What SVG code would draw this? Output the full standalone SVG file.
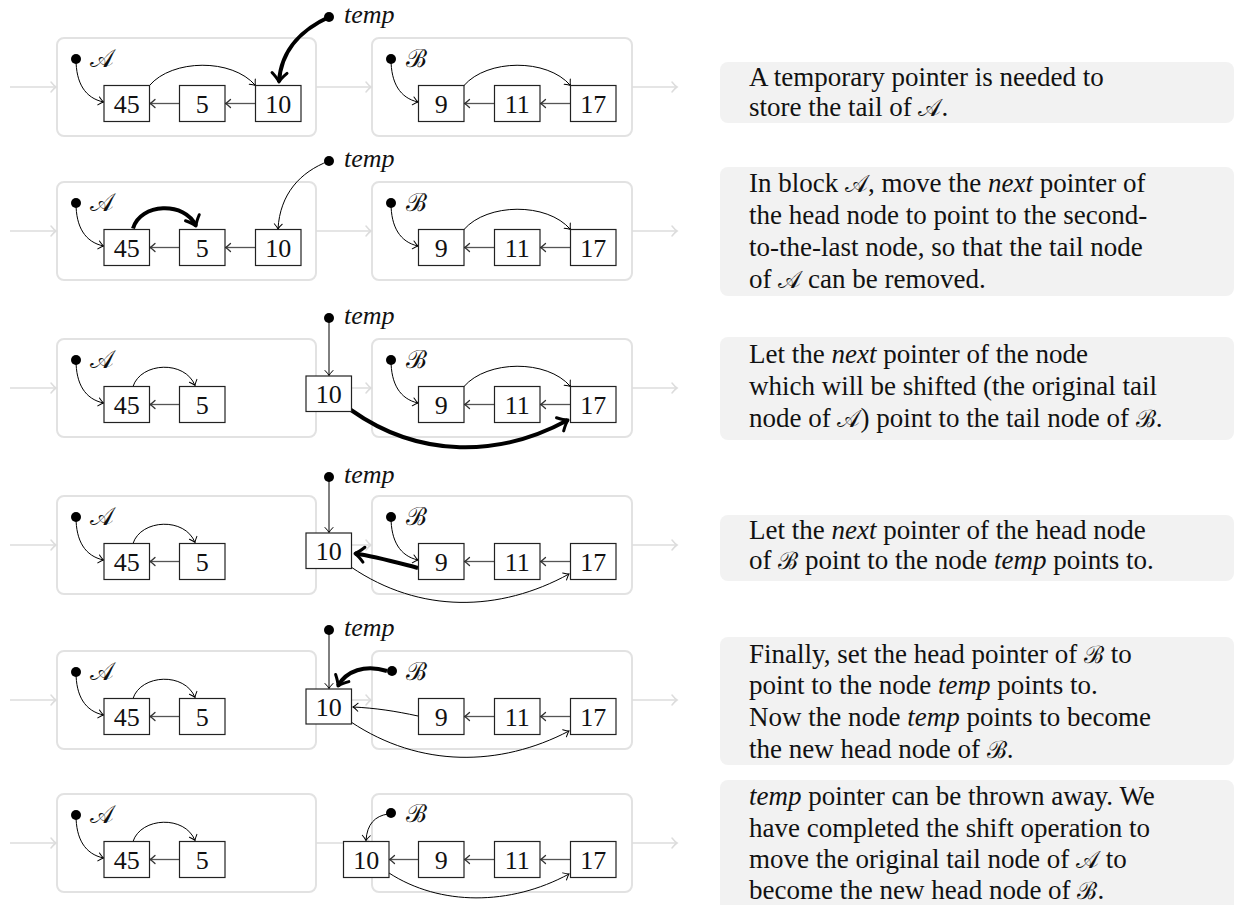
<svg xmlns="http://www.w3.org/2000/svg" width="1236" height="905" viewBox="0 0 1236 905">
  <style>
    .blk { fill: none; stroke: #e2e2e2; stroke-width: 2; }
    .nd rect { fill: #fff; stroke: #222; stroke-width: 1.2; }
    .num { font-size: 26px; text-anchor: middle; fill: #111; }
    .dot { fill: #000; }
    .lab { font-size: 25px; fill: #111; }
    .it { font-style: italic; font-size: 26px; fill: #111; }
    .ptr { fill: none; stroke: #000; stroke-width: 1; marker-end: url(#to); }
    .thk { fill: none; stroke: #000; stroke-width: 4; marker-end: url(#toThick); }
    .lnk { fill: none; stroke: #555; stroke-width: 1.3; marker-end: url(#toDark); }
    .gry { fill: none; stroke: #dcdcdc; stroke-width: 1.5; marker-end: url(#toGray); }
    .box { fill: #f2f2f2; }
    .txt { font-size: 27px; fill: #111; }
    .i { font-style: italic; }
    .cal { font-size: 24px; }
  </style>
  <defs>
    <marker id="to" markerUnits="userSpaceOnUse" orient="auto" refX="0" refY="0" markerWidth="12" markerHeight="12" overflow="visible">
      <path d="M-5,-4 Q-1.8,-0.9 0,0 Q-1.8,0.9 -5,4" fill="none" stroke="#000" stroke-width="1" stroke-linecap="round"/>
    </marker>
    <marker id="toDark" markerUnits="userSpaceOnUse" orient="auto" refX="0" refY="0" markerWidth="12" markerHeight="12" overflow="visible">
      <path d="M-5,-4 Q-1.8,-0.9 0,0 Q-1.8,0.9 -5,4" fill="none" stroke="#333" stroke-width="1.3" stroke-linecap="round"/>
    </marker>
    <marker id="toGray" markerUnits="userSpaceOnUse" orient="auto" refX="0" refY="0" markerWidth="12" markerHeight="12" overflow="visible">
      <path d="M-5,-5 Q-1.8,-1 0,0 Q-1.8,1 -5,5" fill="none" stroke="#dcdcdc" stroke-width="1.5" stroke-linecap="round"/>
    </marker>
    <marker id="toThick" markerUnits="userSpaceOnUse" orient="auto" refX="0" refY="0" markerWidth="20" markerHeight="20" overflow="visible">
      <path d="M-9,-7.5 Q-3.8,-2 0,0 Q-3.8,2 -9,7.5" fill="none" stroke="#000" stroke-width="3" stroke-linecap="round" stroke-linejoin="round"/>
    </marker>
  </defs>

  <!-- ===== Step 1 ===== -->
  <g id="row1" font-family="Liberation Serif">
    <rect class="blk" x="57" y="38" width="259" height="98" rx="7"/>
    <rect class="blk" x="372" y="38" width="260" height="98" rx="7"/>
    <g id="row1-connectors">
      <path class="gry" d="M10,87 H56"/>
      <path class="gry" d="M316,87 H371"/>
      <path class="gry" d="M632,87 H677"/>
      <path class="ptr" d="M76,59 C76,83 85,98 103.5,102"/>
      <path class="ptr" d="M149.5,85.5 C172,59 232,58 255.5,85.5"/>
      <path class="lnk" d="M179.5,103.5 H150"/>
      <path class="lnk" d="M255.5,103.5 H225.5"/>
      <path class="thk" d="M329,17 C305,28 281,48 279,82"/>
      <path class="ptr" d="M391,59 C391,83 400,98 418,102"/>
      <path class="ptr" d="M464,85.5 C487,59 547,58 570.5,85.5"/>
      <path class="lnk" d="M494.5,103.5 H464.5"/>
      <path class="lnk" d="M570.5,103.5 H540.5"/>
    </g>
    <g id="row1-headA"><circle class="dot" cx="76" cy="59" r="5"/><text class="lab" x="90" y="67">𝒜</text></g>
    <g id="row1-headB"><circle class="dot" cx="391" cy="59" r="5"/><text class="lab" x="406" y="67">ℬ</text></g>
    <g id="row1-temp"><circle class="dot" cx="329" cy="17" r="5"/><text class="it" x="344" y="23">temp</text></g>
    <g id="row1-n45" class="nd"><rect x="104" y="85.5" width="45.5" height="36"/><text class="num" x="126.75" y="112.5">45</text></g>
    <g id="row1-n5" class="nd"><rect x="179.5" y="85.5" width="45.5" height="36"/><text class="num" x="202.25" y="112.5">5</text></g>
    <g id="row1-n10" class="nd"><rect x="255.5" y="85.5" width="45.5" height="36"/><text class="num" x="278.25" y="112.5">10</text></g>
    <g id="row1-n9" class="nd"><rect x="418.5" y="85.5" width="45.5" height="36"/><text class="num" x="441.25" y="112.5">9</text></g>
    <g id="row1-n11" class="nd"><rect x="494.5" y="85.5" width="45.5" height="36"/><text class="num" x="517.25" y="112.5">11</text></g>
    <g id="row1-n17" class="nd"><rect x="570.5" y="85.5" width="45.5" height="36"/><text class="num" x="593.25" y="112.5">17</text></g>
  </g>

  <!-- ===== Step 2 ===== -->
  <g id="row2" font-family="Liberation Serif">
    <rect class="blk" x="57" y="182" width="259" height="98" rx="7"/>
    <rect class="blk" x="372" y="182" width="260" height="98" rx="7"/>
    <g id="row2-connectors">
      <path class="gry" d="M10,231 H56"/>
      <path class="gry" d="M316,231 H371"/>
      <path class="gry" d="M632,231 H677"/>
      <path class="ptr" d="M76,203 C76,227 85,242 103.5,246"/>
      <path class="thk" d="M133,228.5 C140,203 185,201 196,226"/>
      <path class="lnk" d="M179.5,247.5 H150"/>
      <path class="lnk" d="M255.5,247.5 H225.5"/>
      <path class="ptr" d="M329,161 C300,172 280,194 278,229"/>
      <path class="ptr" d="M391,203 C391,227 400,242 418,246"/>
      <path class="ptr" d="M464,229.5 C487,203 547,202 570.5,229.5"/>
      <path class="lnk" d="M494.5,247.5 H464.5"/>
      <path class="lnk" d="M570.5,247.5 H540.5"/>
    </g>
    <g id="row2-headA"><circle class="dot" cx="76" cy="203" r="5"/><text class="lab" x="90" y="211">𝒜</text></g>
    <g id="row2-headB"><circle class="dot" cx="391" cy="203" r="5"/><text class="lab" x="406" y="211">ℬ</text></g>
    <g id="row2-temp"><circle class="dot" cx="329" cy="161" r="5"/><text class="it" x="344" y="167">temp</text></g>
    <g id="row2-n45" class="nd"><rect x="104" y="229.5" width="45.5" height="36"/><text class="num" x="126.75" y="256.5">45</text></g>
    <g id="row2-n5" class="nd"><rect x="179.5" y="229.5" width="45.5" height="36"/><text class="num" x="202.25" y="256.5">5</text></g>
    <g id="row2-n10" class="nd"><rect x="255.5" y="229.5" width="45.5" height="36"/><text class="num" x="278.25" y="256.5">10</text></g>
    <g id="row2-n9" class="nd"><rect x="418.5" y="229.5" width="45.5" height="36"/><text class="num" x="441.25" y="256.5">9</text></g>
    <g id="row2-n11" class="nd"><rect x="494.5" y="229.5" width="45.5" height="36"/><text class="num" x="517.25" y="256.5">11</text></g>
    <g id="row2-n17" class="nd"><rect x="570.5" y="229.5" width="45.5" height="36"/><text class="num" x="593.25" y="256.5">17</text></g>
  </g>

  <!-- ===== Step 3 ===== -->
  <g id="row3" font-family="Liberation Serif">
    <rect class="blk" x="57" y="339" width="259" height="98" rx="7"/>
    <rect class="blk" x="372" y="339" width="260" height="98" rx="7"/>
    <g id="row3-connectors">
      <path class="gry" d="M10,388 H56"/>
      <path class="gry" d="M316,388 H371"/>
      <path class="gry" d="M632,388 H677"/>
      <path class="ptr" d="M76,360 C76,384 85,399 103.5,403"/>
      <path class="ptr" d="M133,386.5 C141,362 185,360 195,385.5"/>
      <path class="lnk" d="M179.5,404.5 H150"/>
      <path class="ptr" d="M329,318 V375.5"/>
      <path class="thk" d="M351,410 C420,459 500,457 568,420"/>
      <path class="ptr" d="M391,360 C391,384 400,399 418,403"/>
      <path class="ptr" d="M464,386.5 C487,360 547,359 570.5,386.5"/>
      <path class="lnk" d="M494.5,404.5 H464.5"/>
      <path class="lnk" d="M570.5,404.5 H540.5"/>
    </g>
    <g id="row3-headA"><circle class="dot" cx="76" cy="360" r="5"/><text class="lab" x="90" y="368">𝒜</text></g>
    <g id="row3-headB"><circle class="dot" cx="391" cy="360" r="5"/><text class="lab" x="406" y="368">ℬ</text></g>
    <g id="row3-temp"><circle class="dot" cx="329" cy="318" r="5"/><text class="it" x="344" y="324">temp</text></g>
    <g id="row3-n45" class="nd"><rect x="104" y="386.5" width="45.5" height="36"/><text class="num" x="126.75" y="413.5">45</text></g>
    <g id="row3-n5" class="nd"><rect x="179.5" y="386.5" width="45.5" height="36"/><text class="num" x="202.25" y="413.5">5</text></g>
    <g id="row3-n10" class="nd"><rect x="306" y="376" width="45.5" height="35.5"/><text class="num" x="328.75" y="403">10</text></g>
    <g id="row3-n9" class="nd"><rect x="418.5" y="386.5" width="45.5" height="36"/><text class="num" x="441.25" y="413.5">9</text></g>
    <g id="row3-n11" class="nd"><rect x="494.5" y="386.5" width="45.5" height="36"/><text class="num" x="517.25" y="413.5">11</text></g>
    <g id="row3-n17" class="nd"><rect x="570.5" y="386.5" width="45.5" height="36"/><text class="num" x="593.25" y="413.5">17</text></g>
  </g>

  <!-- ===== Step 4 ===== -->
  <g id="row4" font-family="Liberation Serif">
    <rect class="blk" x="57" y="496" width="259" height="98" rx="7"/>
    <rect class="blk" x="372" y="496" width="260" height="98" rx="7"/>
    <g id="row4-connectors">
      <path class="gry" d="M10,545 H56"/>
      <path class="gry" d="M316,545 H371"/>
      <path class="gry" d="M632,545 H677"/>
      <path class="ptr" d="M76,517 C76,541 85,556 103.5,560"/>
      <path class="ptr" d="M133,543.5 C141,519 185,517 195,542.5"/>
      <path class="lnk" d="M179.5,561.5 H150"/>
      <path class="ptr" d="M329,477 V532.5"/>
      <path class="thk" d="M418,568 C395,562 374,556 355,553.5"/>
      <path class="ptr" d="M351,567 C420,614 500,612 569,574"/>
      <path class="ptr" d="M391,517 C391,541 400,556 418,560"/>
      <path class="lnk" d="M494.5,561.5 H464.5"/>
      <path class="lnk" d="M570.5,561.5 H540.5"/>
    </g>
    <g id="row4-headA"><circle class="dot" cx="76" cy="517" r="5"/><text class="lab" x="90" y="525">𝒜</text></g>
    <g id="row4-headB"><circle class="dot" cx="391" cy="517" r="5"/><text class="lab" x="406" y="525">ℬ</text></g>
    <g id="row4-temp"><circle class="dot" cx="329" cy="477" r="5"/><text class="it" x="344" y="483">temp</text></g>
    <g id="row4-n45" class="nd"><rect x="104" y="543.5" width="45.5" height="36"/><text class="num" x="126.75" y="570.5">45</text></g>
    <g id="row4-n5" class="nd"><rect x="179.5" y="543.5" width="45.5" height="36"/><text class="num" x="202.25" y="570.5">5</text></g>
    <g id="row4-n10" class="nd"><rect x="306" y="533" width="45.5" height="35.5"/><text class="num" x="328.75" y="560">10</text></g>
    <g id="row4-n9" class="nd"><rect x="418.5" y="543.5" width="45.5" height="36"/><text class="num" x="441.25" y="570.5">9</text></g>
    <g id="row4-n11" class="nd"><rect x="494.5" y="543.5" width="45.5" height="36"/><text class="num" x="517.25" y="570.5">11</text></g>
    <g id="row4-n17" class="nd"><rect x="570.5" y="543.5" width="45.5" height="36"/><text class="num" x="593.25" y="570.5">17</text></g>
  </g>

  <!-- ===== Step 5 ===== -->
  <g id="row5" font-family="Liberation Serif">
    <rect class="blk" x="57" y="651" width="259" height="98" rx="7"/>
    <rect class="blk" x="372" y="651" width="260" height="98" rx="7"/>
    <g id="row5-connectors">
      <path class="gry" d="M10,700 H56"/>
      <path class="gry" d="M316,700 H371"/>
      <path class="gry" d="M632,700 H677"/>
      <path class="ptr" d="M76,672 C76,696 85,711 103.5,715"/>
      <path class="ptr" d="M133,698.5 C141,674 185,672 195,697.5"/>
      <path class="lnk" d="M179.5,716.5 H150"/>
      <path class="ptr" d="M329,630 V688.5"/>
      <path class="thk" d="M387,671 C365,664 346,671 338,686"/>
      <path class="ptr" d="M418,716 C395,711 375,708 353,707"/>
      <path class="ptr" d="M351,722 C420,768 500,767 569,731"/>
      <path class="lnk" d="M494.5,716.5 H464.5"/>
      <path class="lnk" d="M570.5,716.5 H540.5"/>
    </g>
    <g id="row5-headA"><circle class="dot" cx="76" cy="672" r="5"/><text class="lab" x="90" y="680">𝒜</text></g>
    <g id="row5-headB"><circle class="dot" cx="392" cy="671" r="5"/><text class="lab" x="406" y="680">ℬ</text></g>
    <g id="row5-temp"><circle class="dot" cx="329" cy="630" r="5"/><text class="it" x="344" y="636">temp</text></g>
    <g id="row5-n45" class="nd"><rect x="104" y="698.5" width="45.5" height="36"/><text class="num" x="126.75" y="725.5">45</text></g>
    <g id="row5-n5" class="nd"><rect x="179.5" y="698.5" width="45.5" height="36"/><text class="num" x="202.25" y="725.5">5</text></g>
    <g id="row5-n10" class="nd"><rect x="306" y="689" width="45.5" height="35"/><text class="num" x="328.75" y="715.5">10</text></g>
    <g id="row5-n9" class="nd"><rect x="418.5" y="698.5" width="45.5" height="36"/><text class="num" x="441.25" y="725.5">9</text></g>
    <g id="row5-n11" class="nd"><rect x="494.5" y="698.5" width="45.5" height="36"/><text class="num" x="517.25" y="725.5">11</text></g>
    <g id="row5-n17" class="nd"><rect x="570.5" y="698.5" width="45.5" height="36"/><text class="num" x="593.25" y="725.5">17</text></g>
  </g>

  <!-- ===== Step 6 ===== -->
  <g id="row6" font-family="Liberation Serif">
    <rect class="blk" x="57" y="794" width="259" height="98" rx="7"/>
    <rect class="blk" x="372" y="794" width="260" height="98" rx="7"/>
    <g id="row6-connectors">
      <path class="gry" d="M10,843 H56"/>
      <path class="gry" d="M316,843 H371"/>
      <path class="gry" d="M632,843 H677"/>
      <path class="ptr" d="M76,815 C76,839 85,854 103.5,858"/>
      <path class="ptr" d="M133,841.5 C141,817 185,815 195,840.5"/>
      <path class="lnk" d="M179.5,859.5 H150"/>
      <path class="ptr" d="M388,814 C375,816 367,824 366,840.5"/>
      <path class="lnk" d="M418.5,859.5 H389.5"/>
      <path class="ptr" d="M389,873 C440,906 510,906 569,874"/>
      <path class="lnk" d="M494.5,859.5 H464.5"/>
      <path class="lnk" d="M570.5,859.5 H540.5"/>
    </g>
    <g id="row6-headA"><circle class="dot" cx="76" cy="815" r="5"/><text class="lab" x="90" y="823">𝒜</text></g>
    <g id="row6-headB"><circle class="dot" cx="391" cy="813" r="5"/><text class="lab" x="406" y="822">ℬ</text></g>
    <g id="row6-n45" class="nd"><rect x="104" y="841.5" width="45.5" height="36"/><text class="num" x="126.75" y="868.5">45</text></g>
    <g id="row6-n5" class="nd"><rect x="179.5" y="841.5" width="45.5" height="36"/><text class="num" x="202.25" y="868.5">5</text></g>
    <g id="row6-n10" class="nd"><rect x="343.5" y="841.5" width="45.5" height="36"/><text class="num" x="366.25" y="868.5">10</text></g>
    <g id="row6-n9" class="nd"><rect x="418.5" y="841.5" width="45.5" height="36"/><text class="num" x="441.25" y="868.5">9</text></g>
    <g id="row6-n11" class="nd"><rect x="494.5" y="841.5" width="45.5" height="36"/><text class="num" x="517.25" y="868.5">11</text></g>
    <g id="row6-n17" class="nd"><rect x="570.5" y="841.5" width="45.5" height="36"/><text class="num" x="593.25" y="868.5">17</text></g>
  </g>

  <!-- ===== Step descriptions ===== -->
  <g id="note1" font-family="Liberation Serif">
    <rect class="box" x="720" y="62" width="514" height="61" rx="8"/>
    <text class="txt" x="749" y="86">A temporary pointer is needed to</text>
    <text class="txt" x="749" y="116">store the tail of <tspan class="cal">𝒜</tspan>.</text>
  </g>
  <g id="note2" font-family="Liberation Serif">
    <rect class="box" x="720" y="167" width="514" height="129" rx="8"/>
    <text class="txt" x="749" y="192">In block <tspan class="cal">𝒜</tspan>, move the <tspan class="i">next</tspan> pointer of</text>
    <text class="txt" x="749" y="224">the head node to point to the second-</text>
    <text class="txt" x="749" y="256">to-the-last node, so that the tail node</text>
    <text class="txt" x="749" y="288">of <tspan class="cal">𝒜</tspan> can be removed.</text>
  </g>
  <g id="note3" font-family="Liberation Serif">
    <rect class="box" x="720" y="337" width="514" height="103" rx="8"/>
    <text class="txt" x="749" y="363">Let the <tspan class="i">next</tspan> pointer of the node</text>
    <text class="txt" x="749" y="395">which will be shifted (the original tail</text>
    <text class="txt" x="749" y="427">node of <tspan class="cal">𝒜</tspan>) point to the tail node of <tspan class="cal">ℬ</tspan>.</text>
  </g>
  <g id="note4" font-family="Liberation Serif">
    <rect class="box" x="720" y="515" width="514" height="66" rx="8"/>
    <text class="txt" x="749" y="539">Let the <tspan class="i">next</tspan> pointer of the head node</text>
    <text class="txt" x="749" y="569">of <tspan class="cal">ℬ</tspan> point to the node <tspan class="i">temp</tspan> points to.</text>
  </g>
  <g id="note5" font-family="Liberation Serif">
    <rect class="box" x="720" y="637" width="514" height="128" rx="8"/>
    <text class="txt" x="749" y="663">Finally, set the head pointer of <tspan class="cal">ℬ</tspan> to</text>
    <text class="txt" x="749" y="694">point to the node <tspan class="i">temp</tspan> points to.</text>
    <text class="txt" x="749" y="726">Now the node <tspan class="i">temp</tspan> points to become</text>
    <text class="txt" x="749" y="758">the new head node of <tspan class="cal">ℬ</tspan>.</text>
  </g>
  <g id="note6" font-family="Liberation Serif">
    <rect class="box" x="720" y="780" width="514" height="135" rx="8"/>
    <text class="txt" x="749" y="805"><tspan class="i">temp</tspan> pointer can be thrown away. We</text>
    <text class="txt" x="749" y="837">have completed the shift operation to</text>
    <text class="txt" x="749" y="868">move the original tail node of <tspan class="cal">𝒜</tspan> to</text>
    <text class="txt" x="749" y="899">become the new head node of <tspan class="cal">ℬ</tspan>.</text>
  </g>
</svg>
